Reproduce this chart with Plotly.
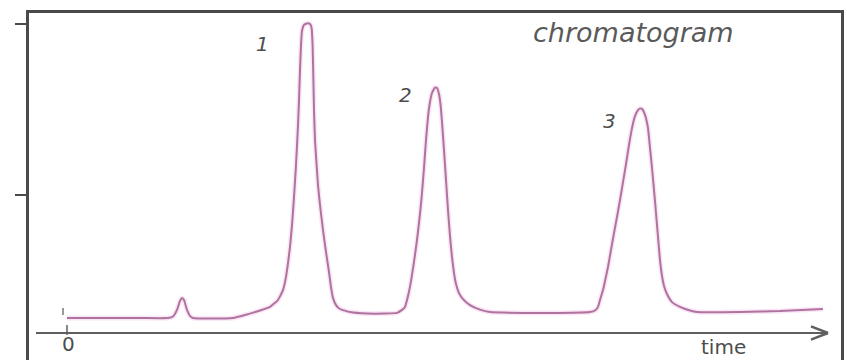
import plotly.graph_objects as go

# Retention time (min) and detector signal (mAU) of the trace
time_min = [
    0.1, 1.75, 3.75, 5.15, 5.4, 5.6, 5.75, 5.85, 5.95, 6.1, 6.25, 6.4, 7.25, 8.4,
    9.0, 9.75, 10.25, 10.65,
    # peak 1
    10.9, 11.05, 11.15, 11.25, 11.35, 11.45, 11.55, 11.65, 11.7, 11.75, 11.8,
    11.85, 11.95, 12.1, 12.25, 12.33, 12.38, 12.42, 12.45, 12.5, 12.65, 12.75,
    12.9, 13.05, 13.2, 13.3, 13.4, 13.55, 13.75, 14.25, 15.1, 16.0, 16.6, 16.85,
    # peak 2
    17.0, 17.15, 17.3, 17.45, 17.6, 17.75, 17.85, 17.95, 18.05, 18.15, 18.25,
    18.35, 18.5, 18.6, 18.7, 18.78, 18.85, 18.95, 19.05, 19.15, 19.25, 19.35,
    19.45, 19.55, 19.7, 19.9, 20.25, 20.75, 21.25, 22.9, 24.75, 26.25, 26.5, 26.65,
    # peak 3
    26.75, 26.9, 27.0, 27.15, 27.3, 27.45, 27.6, 27.75, 27.9, 28.05, 28.2, 28.35,
    28.5, 28.65, 28.75, 28.85, 29.0, 29.15, 29.25, 29.35, 29.45, 29.55, 29.65,
    29.75, 29.85, 29.95, 30.1, 30.35, 30.75, 31.25, 31.6, 33.75, 35.75, 37.9,
]
signal_mau = [
    5.0, 5.0, 5.0, 5.0, 5.5, 7.7, 10.7, 11.7, 11.0, 7.7, 5.7, 5.0, 4.8, 5.0,
    6.0, 7.5, 8.7, 11.0,
    # peak 1
    14.3, 18.7, 23.3, 28.7, 36.0, 45.3, 56.0, 69.3, 77.7, 87.7, 96.0,
    100.7, 102.7, 103.2, 103.0, 101.7, 96.0, 84.3, 74.3, 64.3, 49.3, 42.7,
    34.3, 27.0, 20.3, 15.3, 11.7, 9.3, 8.0, 7.0, 6.5, 6.5, 6.7, 7.7,
    # peak 2
    8.7, 12.3, 17.3, 23.7, 31.0, 39.7, 46.7, 55.0, 64.3, 72.0, 77.0,
    80.0, 81.8, 81.7, 79.7, 76.0, 70.3, 61.0, 51.0, 41.0, 32.3, 25.3,
    20.0, 16.3, 13.3, 11.3, 9.3, 7.8, 7.0, 6.7, 6.7, 7.0, 7.5, 8.7,
    # peak 3
    11.0, 14.3, 17.3, 22.0, 27.7, 33.3, 38.7, 44.3, 50.3, 56.3, 62.7, 68.3,
    72.3, 74.3, 74.8, 74.7, 72.7, 68.3, 61.7, 55.0, 47.7, 40.0, 32.0,
    24.3, 19.0, 15.7, 13.0, 10.3, 8.7, 7.5, 7.0, 7.0, 7.3, 8.0,
]

# Peak numbers and where their labels sit
peak_labels = ["1", "2", "3"]
peak_label_time = [9.85, 17.0, 27.2]
peak_label_signal = [96.2, 79.3, 70.7]

# Left-axis tick marks (no labels)
y_ticks = [46, 103]

AXIS = "#4a4a4a"
ARROW = "#5f5f5f"
TRACE = "#b0739f"
TEXT = "#4d4d4d"

fig = go.Figure()

# soft halo under the trace
fig.add_trace(go.Scatter(
    x=time_min, y=signal_mau, mode="lines",
    line=dict(color="rgba(235,160,215,0.25)", width=5, shape="spline", smoothing=0.4),
    hoverinfo="skip", showlegend=False,
))
fig.add_trace(go.Scatter(
    x=time_min, y=signal_mau, mode="lines",
    line=dict(color=TRACE, width=2, shape="spline", smoothing=0.4),
    showlegend=False,
))

# time axis drawn as an arrow through signal = 0
x_start, x_end = -1.45, 38.15
shapes = [
    dict(type="line", xref="x", yref="y", x0=x_start, x1=x_end, y0=0, y1=0,
         line=dict(color=ARROW, width=2)),
    dict(type="line", xref="x", yref="y", x0=x_end - 0.85, x1=x_end, y0=2.2, y1=0,
         line=dict(color=ARROW, width=2.5)),
    dict(type="line", xref="x", yref="y", x0=x_end - 0.85, x1=x_end, y0=-2.2, y1=0,
         line=dict(color=ARROW, width=2.5)),
    # origin tick
    dict(type="line", xref="x", yref="y", x0=0.1, x1=0.1, y0=-0.7, y1=2.7,
         line=dict(color=ARROW, width=1.5)),
    # injection mark
    dict(type="line", xref="x", yref="y", x0=-0.1, x1=-0.1, y0=6.0, y1=8.3,
         line=dict(color="#777777", width=1.5)),
]

annotations = [
    dict(x=t, y=s, xref="x", yref="y", text=f"<i>{lbl}</i>", showarrow=False,
         font=dict(family="DejaVu Sans", size=20, color=TEXT),
         xanchor="center", yanchor="middle")
    for lbl, t, s in zip(peak_labels, peak_label_time, peak_label_signal)
]
annotations += [
    dict(x=28.43, y=100.3, xref="x", yref="y", text="<i>chromatogram</i>",
         showarrow=False, font=dict(family="DejaVu Sans", size=27, color="#5a5a5a"),
         xanchor="center", yanchor="middle"),
    dict(x=32.9, y=-9.0, xref="x", yref="y", text="time", showarrow=False,
         font=dict(family="DejaVu Sans", size=20, color=TEXT),
         xanchor="center", yanchor="bottom", borderpad=0),
    dict(x=0.15, y=-3.5, xref="x", yref="y", text="0", showarrow=False,
         font=dict(family="DejaVu Sans", size=20, color=TEXT),
         xanchor="center", yanchor="middle"),
]

fig.update_layout(
    width=847, height=360,
    margin=dict(l=29, r=6, t=13, b=0),
    paper_bgcolor="white", plot_bgcolor="white",
    shapes=shapes, annotations=annotations,
    xaxis=dict(range=[-1.8, 38.8], side="top", showline=True, linewidth=3,
               linecolor=AXIS, showgrid=False, zeroline=False, ticks="",
               showticklabels=False, fixedrange=True),
    yaxis=dict(range=[-9, 106.67], showline=True, linewidth=3, linecolor=AXIS,
               mirror=True, showgrid=False, zeroline=False, ticks="outside",
               tickvals=y_ticks, ticklen=11, tickwidth=2, tickcolor=AXIS,
               showticklabels=False, fixedrange=True),
    showlegend=False,
)

fig.write_html("out.html")
